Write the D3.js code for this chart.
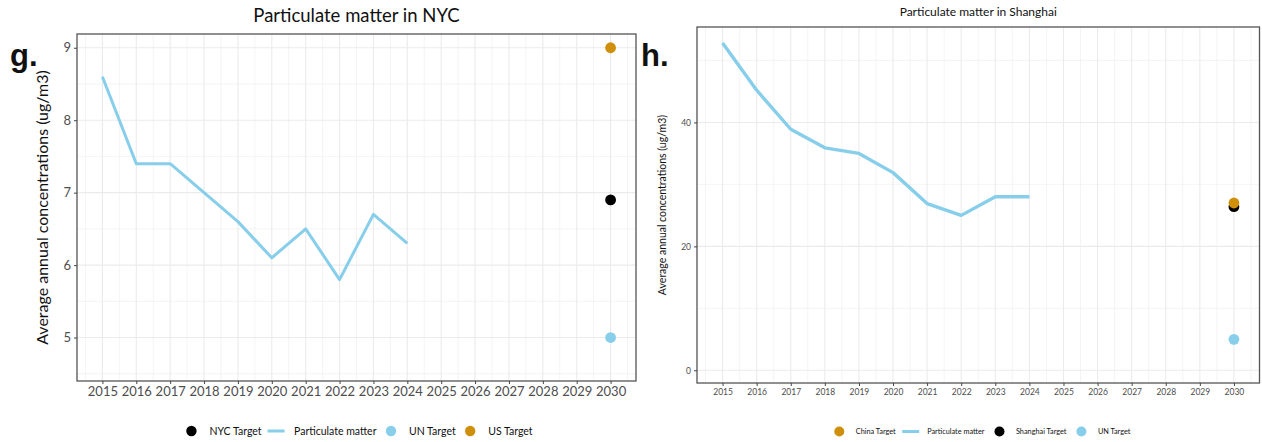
<!DOCTYPE html>
<html>
<head>
<meta charset="utf-8">
<script src="https://cdn.jsdelivr.net/npm/d3@7"></script>
<style>
  body { margin: 0; background: #fff; }
  svg { display: block; font-family: Lato, "Open Sans", sans-serif; }
</style>
</head>
<body>
<svg id="chart" width="1262" height="442"></svg>
<script>

// Yearly particulate matter series
const years = [2015, 2016, 2017, 2018, 2019, 2020, 2021, 2022, 2023, 2024];
const nycPM = [8.6, 7.4, 7.4, 7.0, 6.6, 6.1, 6.5, 5.8, 6.7, 6.3];
const shanghaiPM = [52.8, 45.2, 38.9, 35.9, 35.0, 31.9, 26.9, 25.0, 28.0, 28.0];

// 2030 targets (drawn in this order)
const targetYear = 2030;
const nycTargetNames = ["NYC Target", "UN Target", "US Target"];
const nycTargetValues = [6.9, 5.0, 9.0];
const shanghaiTargetNames = ["Shanghai Target", "UN Target", "China Target"];
const shanghaiTargetValues = [26.4, 5.0, 27.0];

// tick labels
const yearTicks = [2015, 2016, 2017, 2018, 2019, 2020, 2021, 2022, 2023, 2024, 2025, 2026, 2027, 2028, 2029, 2030];
const nycYTicks = [5, 6, 7, 8, 9];
const shanghaiYTicks = [0, 20, 40];

// legend entries
const nycLegend = ["NYC Target", "Particulate matter", "UN Target", "US Target"];
const shanghaiLegend = ["China Target", "Particulate matter", "Shanghai Target", "UN Target"];

const colors = {
  "NYC Target": "#000000",
  "Shanghai Target": "#000000",
  "UN Target": "#87ceeb",
  "US Target": "#cf8f0a",
  "China Target": "#cf8f0a",
  "Particulate matter": "#87ceeb"
};

const svg = d3.select("#chart");

function drawPanel(opt) {
  const g = svg.append("g");

  const x = d3.scaleLinear()
    .domain([2014.25, 2030.75])
    .range([opt.left, opt.right]);

  const y = d3.scaleLinear()
    .domain(opt.yDomain)
    .range([opt.bottom, opt.top]);

  // minor grid lines halfway between major ones
  const xMinor = d3.range(2014.5, 2031, 1);
  const yStep = opt.yTicks[1] - opt.yTicks[0];
  const yMinor = d3.range(opt.yTicks[0] - yStep / 2, opt.yDomain[1], yStep)
    .filter(d => d > opt.yDomain[0] && d < opt.yDomain[1]);

  const grid = g.append("g");
  grid.selectAll(".xminor").data(xMinor).enter().append("line")
    .attr("x1", d => x(d)).attr("x2", d => x(d))
    .attr("y1", opt.top).attr("y2", opt.bottom)
    .attr("stroke", "#ededed").attr("stroke-width", 0.6);
  grid.selectAll(".yminor").data(yMinor).enter().append("line")
    .attr("x1", opt.left).attr("x2", opt.right)
    .attr("y1", d => y(d)).attr("y2", d => y(d))
    .attr("stroke", "#ededed").attr("stroke-width", 0.6);
  grid.selectAll(".xmajor").data(yearTicks).enter().append("line")
    .attr("x1", d => x(d)).attr("x2", d => x(d))
    .attr("y1", opt.top).attr("y2", opt.bottom)
    .attr("stroke", "#ebebeb").attr("stroke-width", 1.1);
  grid.selectAll(".ymajor").data(opt.yTicks).enter().append("line")
    .attr("x1", opt.left).attr("x2", opt.right)
    .attr("y1", d => y(d)).attr("y2", d => y(d))
    .attr("stroke", "#ebebeb").attr("stroke-width", 1.1);

  // the series line
  const series = years.map((yr, i) => ({ year: yr, value: opt.values[i] }));
  g.append("path")
    .datum(series)
    .attr("d", d3.line().x(d => x(d.year)).y(d => y(d.value)))
    .attr("fill", "none")
    .attr("stroke", colors["Particulate matter"])
    .attr("stroke-width", opt.lineWidth)
    .attr("stroke-linejoin", "round");

  // target points
  const targets = opt.targetNames.map((n, i) => ({ name: n, value: opt.targetValues[i] }));
  g.selectAll(".target").data(targets).enter().append("circle")
    .attr("cx", x(targetYear))
    .attr("cy", d => y(d.value))
    .attr("r", opt.dotR)
    .attr("fill", d => colors[d.name]);

  // panel border
  g.append("rect")
    .attr("x", opt.left).attr("y", opt.top)
    .attr("width", opt.right - opt.left).attr("height", opt.bottom - opt.top)
    .attr("fill", "none").attr("stroke", "#555").attr("stroke-width", 1.3);

  // axes
  const xAxis = g.append("g")
    .attr("transform", `translate(0, ${opt.bottom})`)
    .call(d3.axisBottom(x).tickValues(yearTicks).tickFormat(d3.format("d")).tickSize(opt.tickLen).tickPadding(opt.tickPad));
  const yAxis = g.append("g")
    .attr("transform", `translate(${opt.left}, 0)`)
    .call(d3.axisLeft(y).tickValues(opt.yTicks).tickFormat(d3.format("d")).tickSize(opt.tickLen).tickPadding(opt.tickPad));
  [xAxis, yAxis].forEach(a => {
    a.select(".domain").remove();
    a.selectAll(".tick line").attr("stroke", "#444");
    a.selectAll("text")
      .attr("fill", "#4d4d4d")
      .style("font-size", opt.tickFont + "px")
      .style("font-family", "Lato, sans-serif");
  });

  // title
  g.append("text")
    .attr("x", (opt.left + opt.right) / 2)
    .attr("y", opt.titleY)
    .attr("text-anchor", "middle")
    .style("font-size", opt.titleFont + "px")
    .attr("fill", "#111")
    .text(opt.title);

  // y axis label
  g.append("text")
    .attr("transform", `translate(${opt.yLabelX}, ${(opt.top + opt.bottom) / 2}) rotate(-90)`)
    .attr("text-anchor", "middle")
    .style("font-size", opt.yLabelFont + "px")
    .attr("fill", "#111")
    .text("Average annual concentrations (ug/m3)");

  // panel letter
  g.append("text")
    .attr("x", opt.letterX).attr("y", opt.letterY)
    .style("font-size", "31px")
    .style("font-weight", "bold")
    .style("font-family", "'Liberation Sans', Arial, sans-serif")
    .attr("fill", "#111")
    .text(opt.letter);

  // legend, laid out from text widths and centred
  const leg = g.append("g");
  let cursor = 0;
  opt.legend.forEach(name => {
    const item = leg.append("g").attr("transform", `translate(${cursor}, 0)`);
    if (name === "Particulate matter") {
      item.append("line")
        .attr("x1", -8.5).attr("x2", 8.5)
        .attr("stroke", colors[name]).attr("stroke-width", 3);
    } else {
      item.append("circle").attr("r", opt.legendR).attr("fill", colors[name]);
    }
    const t = item.append("text")
      .attr("x", opt.legendTextOff)
      .attr("dy", "0.35em")
      .style("font-size", opt.legendFont + "px")
      .attr("fill", "#111")
      .text(name);
    cursor += opt.legendTextOff + t.node().getComputedTextLength() + opt.legendGap;
  });
  const bb = leg.node().getBBox();
  leg.attr("transform", `translate(${opt.legendCX - (bb.x + bb.width / 2)}, ${opt.legendY})`);
}

drawPanel({
  left: 77, right: 636, top: 34, bottom: 381,
  yDomain: [4.4, 9.19], yTicks: nycYTicks,
  values: nycPM, targetNames: nycTargetNames, targetValues: nycTargetValues,
  lineWidth: 3, dotR: 5.4,
  tickLen: 3, tickPad: 3, tickFont: 13,
  title: "Particulate matter in NYC", titleY: 22, titleFont: 18.5,
  yLabelX: 48, yLabelFont: 16,
  letter: "g.", letterX: 10, letterY: 66,
  legend: nycLegend, legendCX: 359.5, legendY: 431, legendR: 5.2,
  legendFont: 10.5, legendTextOff: 18, legendGap: 14.5
});

drawPanel({
  left: 697, right: 1259.5, top: 27, bottom: 383,
  yDomain: [-2.05, 55.4], yTicks: shanghaiYTicks,
  values: shanghaiPM, targetNames: shanghaiTargetNames, targetValues: shanghaiTargetValues,
  lineWidth: 3.4, dotR: 5.4,
  tickLen: 3, tickPad: 3, tickFont: 8.5,
  title: "Particulate matter in Shanghai", titleY: 16, titleFont: 12,
  yLabelX: 666, yLabelFont: 10.5,
  letter: "h.", letterX: 641, letterY: 66,
  legend: shanghaiLegend, legendCX: 982.5, legendY: 431.5, legendR: 5,
  legendFont: 7.3, legendTextOff: 16.5, legendGap: 15
});
</script>
</body>
</html>
